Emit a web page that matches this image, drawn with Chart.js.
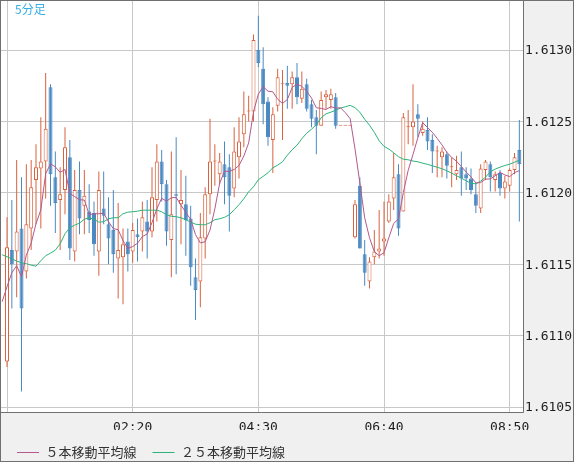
<!DOCTYPE html>
<html><head><meta charset="utf-8">
<script src="https://cdn.jsdelivr.net/npm/chart.js@4.4.1/dist/chart.umd.min.js"></script>
<style>html,body{margin:0;padding:0;background:#f0f0f0;}canvas{display:block;}</style>
</head><body>
<canvas id="c" width="574" height="462"></canvas>
<script>
// ---- data (5-minute bars, bar 0 = 00:10) ----
const chartTitle = '5分足';
const seriesNames = ['５本移動平均線', '２５本移動平均線'];
const tickIndex = [0, 26, 52, 78, 104];
const tickLabels = ['', '02:20', '04:30', '06:40', '08:50'];
const priceTicks = [1.6105, 1.6110, 1.6115, 1.6120, 1.6125, 1.6130];

const opens = [
1.61082,1.61160,1.61159,1.61175,1.61145,1.61175,1.61209,1.61217,1.61222,1.61274,
1.61211,1.61195,1.61202,1.61225,1.61159,1.61202,1.61191,1.61187,1.61186,1.61159,
1.61189,1.61178,1.61174,1.61154,1.61155,1.61166,1.61159,1.61171,1.61173,1.61180,
1.61173,1.61195,1.61222,1.61206,1.61167,1.61199,1.61192,1.61192,1.61182,1.61141,
1.61138,1.61168,1.61199,1.61222,1.61213,1.61220,1.61218,1.61203,1.61225,1.61241,
1.61257,1.61257,1.61300,1.61287,1.61264,1.61237,1.61261,1.61276,1.61277,1.61276,
1.61281,1.61266,1.61276,1.61262,1.61253,1.61247,1.61267,1.61265,1.61267,1.61247,
1.61247,1.61247,1.61169,1.61205,1.61157,1.61138,1.61155,1.61159,1.61166,1.61180,
1.61196,1.61213,1.61187,1.61246,1.61246,1.61255,1.61242,1.61244,1.61237,1.61229,
1.61225,1.61227,1.61218,1.61213,1.61218,1.61213,1.61210,1.61199,1.61189,1.61216,
1.61220,1.61209,1.61214,1.61203,1.61205,1.61216,1.61230];
const highs = [
1.61183,1.61195,1.61223,1.61211,1.61220,1.61223,1.61234,1.61253,1.61284,1.61276,
1.61229,1.61218,1.61246,1.61237,1.61216,1.61222,1.61216,1.61206,1.61194,1.61215,
1.61215,1.61197,1.61202,1.61193,1.61175,1.61175,1.61179,1.61182,1.61194,1.61195,
1.61218,1.61234,1.61230,1.61209,1.61229,1.61239,1.61216,1.61212,1.61191,1.61154,
1.61186,1.61204,1.61252,1.61234,1.61228,1.61236,1.61227,1.61246,1.61253,1.61271,
1.61268,1.61311,1.61324,1.61302,1.61267,1.61260,1.61287,1.61286,1.61289,1.61285,
1.61291,1.61285,1.61280,1.61265,1.61258,1.61271,1.61272,1.61273,1.61270,1.61247,
1.61247,1.61247,1.61195,1.61211,1.61167,1.61155,1.61174,1.61188,1.61194,1.61199,
1.61228,1.61220,1.61256,1.61258,1.61276,1.61262,1.61250,1.61253,1.61241,1.61233,
1.61232,1.61229,1.61225,1.61226,1.61229,1.61218,1.61217,1.61207,1.61220,1.61223,
1.61222,1.61215,1.61216,1.61212,1.61217,1.61228,1.61251];
const lows = [
1.61078,1.61119,1.61127,1.61061,1.61140,1.61160,1.61178,1.61175,1.61196,1.61191,
1.61172,1.61160,1.61185,1.61153,1.61152,1.61171,1.61171,1.61172,1.61156,1.61142,
1.61178,1.61150,1.61144,1.61126,1.61122,1.61145,1.61151,1.61152,1.61159,1.61154,
1.61169,1.61180,1.61194,1.61163,1.61141,1.61143,1.61164,1.61156,1.61135,1.61111,
1.61120,1.61154,1.61185,1.61205,1.61206,1.61192,1.61173,1.61197,1.61210,1.61232,
1.61250,1.61250,1.61288,1.61248,1.61233,1.61214,1.61257,1.61237,1.61259,1.61259,
1.61262,1.61263,1.61257,1.61246,1.61227,1.61247,1.61259,1.61259,1.61245,1.61247,
1.61247,1.61247,1.61168,1.61161,1.61135,1.61133,1.61150,1.61154,1.61156,1.61179,
1.61188,1.61170,1.61187,1.61234,1.61233,1.61239,1.61240,1.61230,1.61214,1.61211,
1.61211,1.61210,1.61204,1.61209,1.61198,1.61202,1.61199,1.61186,1.61186,1.61209,
1.61201,1.61201,1.61198,1.61196,1.61201,1.61213,1.61180];
const closes = [
1.61162,1.61150,1.61173,1.61119,1.61178,1.61204,1.61218,1.61222,1.61245,1.61213,
1.61193,1.61199,1.61232,1.61161,1.61202,1.61182,1.61198,1.61181,1.61164,1.61202,
1.61184,1.61168,1.61157,1.61160,1.61164,1.61157,1.61174,1.61169,1.61183,1.61173,
1.61197,1.61222,1.61206,1.61173,1.61185,1.61198,1.61195,1.61181,1.61148,1.61132,
1.61169,1.61199,1.61222,1.61222,1.61222,1.61211,1.61198,1.61229,1.61236,1.61255,
1.61257,1.61307,1.61291,1.61262,1.61239,1.61255,1.61281,1.61276,1.61275,1.61281,
1.61267,1.61273,1.61259,1.61252,1.61247,1.61265,1.61269,1.61269,1.61247,1.61247,
1.61247,1.61247,1.61192,1.61161,1.61144,1.61152,1.61159,1.61161,1.61168,1.61194,
1.61211,1.61175,1.61253,1.61246,1.61250,1.61252,1.61245,1.61236,1.61229,1.61229,
1.61229,1.61219,1.61218,1.61216,1.61210,1.61210,1.61202,1.61191,1.61217,1.61222,
1.61211,1.61213,1.61203,1.61208,1.61216,1.61225,1.61220];

// moving averages, first value belongs to bar -1 (00:05)
const maStart = -1;
const ma5 = [
1.611238,1.611343,1.611441,1.611490,1.611413,1.611564,1.611648,1.611784,1.611882,1.612134,
1.612204,1.612182,1.612144,1.612164,1.611996,1.611974,1.611952,1.611950,1.611848,1.611854,
1.611854,1.611858,1.611798,1.611750,1.611742,1.611666,1.611612,1.611624,1.611648,1.611694,
1.611712,1.611792,1.611888,1.611962,1.611942,1.611966,1.611968,1.611914,1.611864,1.611814,
1.611708,1.611650,1.611658,1.611740,1.611888,1.612068,1.612152,1.612150,1.612164,1.612192,
1.612258,1.612350,1.612568,1.612692,1.612744,1.612712,1.612708,1.612656,1.612626,1.612654,
1.612738,1.612762,1.612746,1.612712,1.612664,1.612596,1.612592,1.612584,1.612604,1.612594,
1.612596,1.612562,1.612520,1.612309,1.612071,1.611826,1.611686,1.611588,1.611560,1.611581,
1.611686,1.611786,1.611818,1.612002,1.612158,1.612270,1.612386,1.612492,1.612458,1.612424,
1.612382,1.612336,1.612284,1.612248,1.612222,1.612184,1.612146,1.612112,1.612070,1.612072,
1.612096,1.612098,1.612120,1.612144,1.612126,1.612114,1.612142,1.612156];
const ma25 = [
1.611567,1.611553,1.611539,1.611522,1.611511,1.611504,1.611494,1.611487,1.611525,1.611560,
1.611578,1.611599,1.611644,1.611714,1.611756,1.611774,1.611788,1.611816,1.611826,1.611816,
1.611795,1.611798,1.611819,1.611826,1.611826,1.611854,1.611865,1.611868,1.611872,1.611879,
1.611879,1.611879,1.611879,1.611868,1.611847,1.611836,1.611833,1.611826,1.611812,1.611795,
1.611781,1.611777,1.611777,1.611791,1.611812,1.611819,1.611829,1.611847,1.611882,1.611917,
1.611959,1.612008,1.612043,1.612092,1.612116,1.612141,1.612176,1.612194,1.612218,1.612264,
1.612302,1.612334,1.612379,1.612418,1.612446,1.612477,1.612526,1.612554,1.612565,1.612579,
1.612594,1.612603,1.612613,1.612597,1.612565,1.612516,1.612474,1.612424,1.612365,1.612326,
1.612307,1.612281,1.612253,1.612236,1.612232,1.612223,1.612218,1.612208,1.612200,1.612190,
1.612180,1.612169,1.612155,1.612138,1.612120,1.612103,1.612085,1.612067,1.612064,1.612082,
1.612110,1.612148,1.612167,1.612180,1.612192,1.612201,1.612215,1.612229];

// ---- styling ----
const RED = '#d9623f', BLUE = '#4a89c2', MA5C = '#b35a8d', MA25C = '#2db47a';
const isUp = i => i !== undefined && closes[i] >= opens[i];

const wickData = highs.map((h, i) => ({x: i, y: [lows[i], h]}));
const bodyData = opens.map((o, i) => ({x: i, y: [Math.min(o, closes[i]), Math.max(o, closes[i])]}));
const ma5Data = ma5.map((v, k) => ({x: k + maStart, y: v}));
const ma25Data = ma25.map((v, k) => ({x: k + maStart, y: v}));

const framePlugin = {
  id: 'frame',
  beforeDraw(chart) {
    const {ctx, chartArea: a} = chart;
    ctx.save();
    ctx.fillStyle = '#f0f0f0';
    ctx.fillRect(0, 0, chart.width, chart.height);
    ctx.fillStyle = '#ffffff';
    ctx.fillRect(a.left, a.top, a.right - a.left, a.bottom - a.top);
    ctx.restore();
  },
  afterDraw(chart) {
    const {ctx, chartArea: a} = chart;
    ctx.save();
    ctx.strokeStyle = '#707070';
    ctx.lineWidth = 1;
    ctx.strokeRect(0.5, 0.5, chart.width - 1, chart.height - 1);
    ctx.beginPath();
    ctx.moveTo(a.right + 0.5, 0);
    ctx.lineTo(a.right + 0.5, a.bottom + 0.5);
    ctx.moveTo(0, a.bottom + 0.5);
    ctx.lineTo(a.right + 0.5, a.bottom + 0.5);
    ctx.stroke();
    ctx.fillStyle = '#35aee6';
    ctx.font = "12px 'Noto Sans CJK JP'";
    ctx.textBaseline = 'middle';
    ctx.textAlign = 'left';
    ctx.fillText(chartTitle, 15, 9.5);
    ctx.restore();
  }
};

const zeroPad = s => { s.paddingTop = 0; s.paddingBottom = 0; s.paddingLeft = 0; s.paddingRight = 0; };

new Chart(document.getElementById('c'), {
  type: 'bar',
  data: {
    datasets: [
      {type: 'bar', label: 'wick', data: wickData, barThickness: 1, grouped: false,
       backgroundColor: c => isUp(c.dataIndex) ? RED : BLUE, borderWidth: 0, inflateAmount: 0, order: 3},
      {type: 'bar', label: 'body', data: bodyData, barThickness: 4, grouped: false, minBarLength: 1,
       backgroundColor: c => isUp(c.dataIndex) ? '#ffffff' : BLUE,
       borderColor: c => isUp(c.dataIndex) ? RED : BLUE,
       borderWidth: 1, borderSkipped: false, inflateAmount: 0, order: 2},
      {type: 'line', label: seriesNames[0], data: ma5Data, borderColor: MA5C, backgroundColor: MA5C,
       borderWidth: 1, pointRadius: 0, tension: 0, fill: false, order: 0},
      {type: 'line', label: seriesNames[1], data: ma25Data, borderColor: MA25C, backgroundColor: MA25C,
       borderWidth: 1, pointRadius: 0, tension: 0, fill: false, order: 1}
    ]
  },
  options: {
    responsive: false,
    devicePixelRatio: 1,
    animation: false,
    events: [],
    layout: {padding: {left: 1, top: 1, right: 0, bottom: 0}},
    scales: {
      x: {
        type: 'linear', offset: false,
        min: (1 - 7) / 4.8334, max: (523 - 7) / 4.8334,
        afterBuildTicks: s => { s.ticks = tickIndex.map(v => ({value: v})); },
        afterFit: s => { s.height = 18; zeroPad(s); },
        ticks: {autoSkip: false, maxRotation: 0, minRotation: 0, padding: 8, color: '#1e1e1e',
                font: {family: 'DejaVu Sans Mono', size: 13},
                callback: v => { const k = tickIndex.indexOf(v); return k >= 0 ? tickLabels[k] : ''; }},
        grid: {color: '#c8c8c8', lineWidth: 1, drawTicks: false, offset: false},
        border: {display: false}
      },
      y: {
        type: 'linear', position: 'right', beginAtZero: false,
        min: 1.6130 - 361.9 / 142800, max: 1.6130 + 49.1 / 142800,
        afterBuildTicks: s => { s.ticks = priceTicks.map(v => ({value: v})); },
        afterFit: s => { s.width = 51; zeroPad(s); },
        ticks: {padding: 2, color: '#1e1e1e', labelOffset: 1,
                font: {family: 'DejaVu Sans Mono', size: 13},
                callback: v => Number(v).toFixed(4)},
        grid: {color: '#c8c8c8', lineWidth: 1, drawTicks: false},
        border: {display: false}
      }
    },
    plugins: {
      tooltip: {enabled: false},
      legend: {
        display: true, position: 'bottom', align: 'start', maxHeight: 32,
        labels: {
          filter: item => item.datasetIndex >= 2,
          usePointStyle: true, pointStyle: 'line', pointStyleWidth: 22, boxHeight: 13,
          padding: 16, color: '#333333',
          font: {family: "'Noto Sans CJK JP'", size: 13}
        }
      }
    }
  },
  plugins: [framePlugin]
});
</script>
</body></html>
